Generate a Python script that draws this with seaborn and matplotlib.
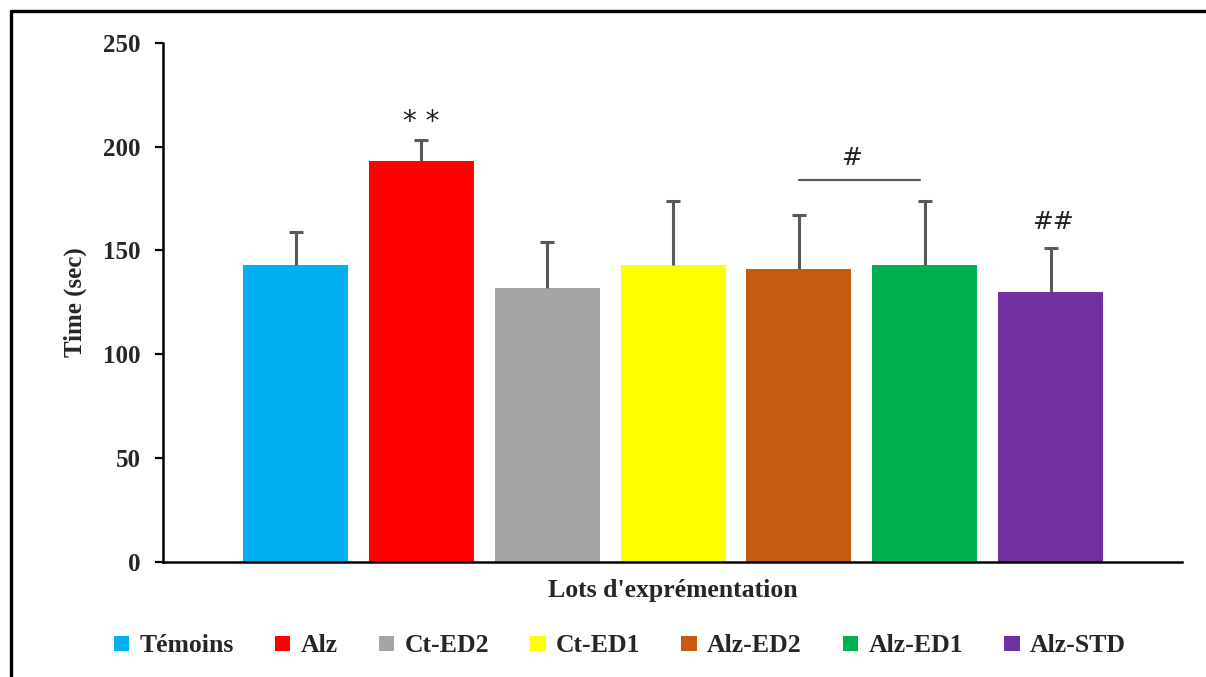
import matplotlib
matplotlib.use("Agg")
import matplotlib.pyplot as plt
from matplotlib.patches import Patch
from matplotlib.lines import Line2D
import seaborn as sns
import pandas as pd

# Experimental groups and measured times (mean and SEM, seconds)
groups = ["Témoins", "Alz", "Ct-ED2", "Ct-ED1", "Alz-ED2", "Alz-ED1", "Alz-STD"]
means = [143, 193, 132, 143, 141, 143, 130]
errors = [16, 10, 22, 31, 26, 31, 21]
colors = ["#00B0F0", "#FF0000", "#A5A5A5", "#FFFF00", "#C55A11", "#00B050", "#7030A0"]
y_ticks = [0, 50, 100, 150, 200, 250]

sns.set_theme(style="white")
plt.rcParams["font.family"] = ["Liberation Serif", "DejaVu Serif"]
plt.rcParams["font.weight"] = "bold"

df = pd.DataFrame({"group": groups, "time": means})

fig = plt.figure(figsize=(12.06, 6.77), dpi=100)
ax = fig.add_axes([0.1352, 0.1699, 0.8447, 0.767])

sns.barplot(data=df, x="group", y="time", hue="group", palette=colors,
            width=0.834, dodge=False, legend=False, errorbar=None,
            saturation=1, ax=ax, linewidth=0)

# upper-only error bars (hide the lower cap)
_, caps, _ = ax.errorbar(range(len(groups)), means,
                         yerr=[[0] * len(groups), errors],
                         fmt="none", ecolor="#595959", elinewidth=2.2,
                         capsize=5, capthick=2.2, zorder=3)
caps[0].set_visible(False)

ax.set_xlim(-1.053, 7.043)
ax.set_ylim(0, 250)
ax.set_yticks(y_ticks)
ax.set_yticklabels([str(t) for t in y_ticks], fontsize=18, fontweight="bold")
ax.set_xticks([])
ax.tick_params(axis="y", direction="out", length=6, width=1.6, color="black",
               pad=10, left=True)

for side in ["top", "right"]:
    ax.spines[side].set_visible(False)
for side in ["left", "bottom"]:
    ax.spines[side].set_color("black")
    ax.spines[side].set_linewidth(1.8)

ax.set_ylabel("Time (sec)", fontsize=18, fontweight="bold", labelpad=12)
ax.set_xlabel("Lots d'exprémentation", fontsize=18.5, fontweight="bold", labelpad=12)

# significance marks
sig_font = dict(family="DejaVu Sans", color="#222222",
                ha="center", va="center", fontweight="normal")
ax.text(1, 212, "* *", fontsize=20, **sig_font)
ax.plot([4.0, 4.96], [184, 184], color="#595959", lw=1.6)
ax.text(4.42, 194.5, "#", fontsize=18, **sig_font)
ax.text(6.02, 163.5, "##", fontsize=18, **sig_font)

handles = [Patch(facecolor=c, edgecolor="none", label=g) for g, c in zip(groups, colors)]
fig.legend(handles=handles, loc="center", bbox_to_anchor=(0.514, 0.046), ncol=7,
           frameon=False, handlelength=0.6, handleheight=0.5,
           handletextpad=0.4, columnspacing=1.6,
           prop={"weight": "bold", "size": 18.5})

# outer frame
fig.add_artist(Line2D([11 / 1206, 11 / 1206], [0, 1 - 11 / 677],
                      transform=fig.transFigure, color="black", lw=2.4))
fig.add_artist(Line2D([11 / 1206, 1], [1 - 11 / 677, 1 - 11 / 677],
                      transform=fig.transFigure, color="black", lw=2.4))

fig.savefig("out.png", dpi=100)
